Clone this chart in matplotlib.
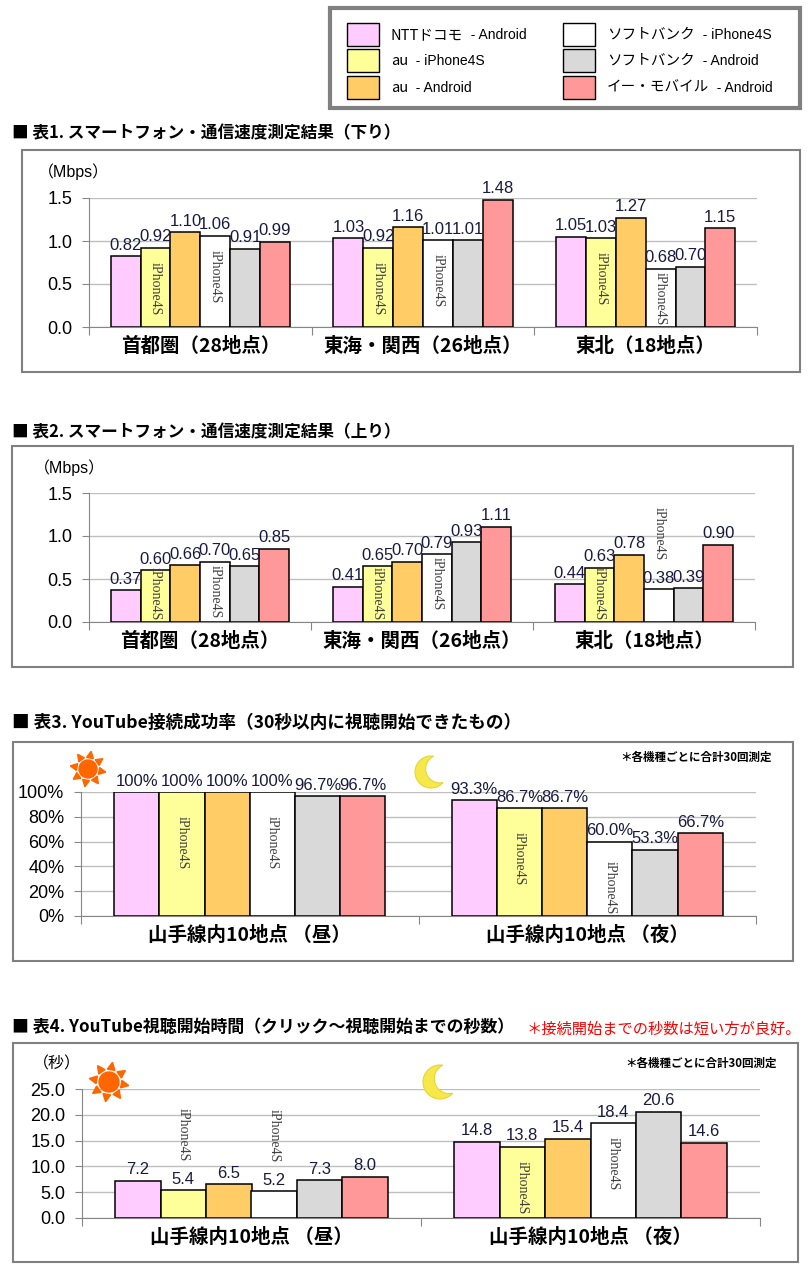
import numpy as np
import matplotlib
matplotlib.use("Agg")
import matplotlib.pyplot as plt
from matplotlib.patches import Rectangle, Circle, Polygon

plt.rcParams['font.family'] = ['Liberation Sans', 'Noto Sans CJK JP', 'DejaVu Sans']
JP_FIRST = ['Noto Sans CJK JP', 'DejaVu Sans']

# series (same order in every chart)
carriers = ['NTTドコモ', 'au', 'au', 'ソフトバンク', 'ソフトバンク', 'イー・モバイル']
models = ['Android', 'iPhone4S', 'Android', 'iPhone4S', 'Android', 'Android']
colors = ['#FFCCFF', '#FFFF99', '#FFCC66', '#FFFFFF', '#D9D9D9', '#FF9999']

# chart 1 / 2 : speed (Mbps)
regions = ['首都圏（28地点）', '東海・関西（26地点）', '東北（18地点）']
down_speed = [[0.82, 0.92, 1.10, 1.06, 0.91, 0.99],
              [1.03, 0.92, 1.16, 1.01, 1.01, 1.48],
              [1.05, 1.03, 1.27, 0.68, 0.70, 1.15]]
up_speed = [[0.37, 0.60, 0.66, 0.70, 0.65, 0.85],
            [0.41, 0.65, 0.70, 0.79, 0.93, 1.11],
            [0.44, 0.63, 0.78, 0.38, 0.39, 0.90]]

# chart 3 / 4 : YouTube
periods = ['山手線内10地点 （昼）', '山手線内10地点 （夜）']
success_rate = [[100, 100, 100, 100, 96.7, 96.7],
                [93.3, 86.7, 86.7, 60.0, 53.3, 66.7]]
start_time = [[7.2, 5.4, 6.5, 5.2, 7.3, 8.0],
              [14.8, 13.8, 15.4, 18.4, 20.6, 14.6]]

titles = ['■ 表1. スマートフォン・通信速度測定結果（下り）',
          '■ 表2. スマートフォン・通信速度測定結果（上り）',
          '■ 表3. YouTube接続成功率（30秒以内に視聴開始できたもの）',
          '■ 表4. YouTube視聴開始時間（クリック～視聴開始までの秒数）']

W, H = 810, 1280
BAR_W = 0.134
LABEL_C = '#1A1A40'
GRID_C = '#BFBFBF'
AXIS_C = '#868686'

fig = plt.figure(figsize=(W / 100, H / 100), dpi=100)

# overlay in pixel coordinates for boxes, titles, legend and icons
ov = fig.add_axes([0, 0, 1, 1], zorder=5)
ov.set_xlim(0, W)
ov.set_ylim(H, 0)
ov.axis('off')


def px_axes(left, top, right, bottom):
    ax = fig.add_axes([left / W, 1 - bottom / H, (right - left) / W, (bottom - top) / H])
    ax.set_facecolor('none')
    return ax


def draw_chart(ax, cats, data, ymax, ystep, tickfmt, valfmt, height_px, inset_px):
    ncat = len(cats)
    for j in range(6):
        xs = [i + 0.5 + (j - 2.5) * BAR_W for i in range(ncat)]
        vals = [data[i][j] for i in range(ncat)]
        ax.bar(xs, vals, BAR_W, color=colors[j], edgecolor='black', linewidth=1.1, zorder=3)
        for x, v in zip(xs, vals):
            ax.annotate(valfmt(v), (x, v), xytext=(0, 2.5), textcoords='offset points',
                        ha='center', va='bottom', fontsize=12, color=LABEL_C, zorder=4)
            if models[j] == 'iPhone4S':
                hpx = v / ymax * height_px
                if hpx > 50:
                    # inside the bar, but keep the whole word above the axis
                    top_px = max(hpx - inset_px, 55)
                    ax.annotate('iPhone4S', (x, 0), xytext=(0, top_px * 0.72),
                                textcoords='offset points', ha='center', va='top',
                                rotation=270, fontsize=10, color='#404040',
                                family='Liberation Serif', zorder=4)
                else:
                    ax.annotate('iPhone4S', (x, v), xytext=(0, 21),
                                textcoords='offset points', ha='center', va='bottom',
                                rotation=270, fontsize=10, color='#404040',
                                family='Liberation Serif', zorder=4)
    ax.set_xlim(0, ncat)
    ax.set_ylim(0, ymax)
    yt = np.arange(0, ymax + ystep / 2, ystep)
    ax.set_yticks(yt)
    ax.set_yticklabels([tickfmt(t) for t in yt], fontsize=13)
    ax.yaxis.grid(True, color=GRID_C, linewidth=1)
    ax.set_axisbelow(True)
    ax.set_xticks(range(ncat + 1))
    ax.set_xticklabels([])
    ax.set_xticks([i + 0.5 for i in range(ncat)], minor=True)
    ax.set_xticklabels(cats, minor=True, fontsize=14, fontweight='bold', family=JP_FIRST)
    ax.tick_params(axis='x', which='major', length=6, color=AXIS_C)
    ax.tick_params(axis='x', which='minor', length=0, pad=7)
    ax.tick_params(axis='y', length=5, color=AXIS_C, pad=7)
    for s in ['top', 'right']:
        ax.spines[s].set_visible(False)
    for s in ['left', 'bottom']:
        ax.spines[s].set_color(AXIS_C)


def draw_sun(cx, cy, r):
    ov.add_patch(Circle((cx, cy), r, color='#FF6600', zorder=6))
    for k in range(8):
        a = np.deg2rad(k * 45 + 10)
        tip = (cx + 2.0 * r * np.cos(a), cy + 2.0 * r * np.sin(a))
        b1 = (cx + 1.3 * r * np.cos(a + 0.3), cy + 1.3 * r * np.sin(a + 0.3))
        b2 = (cx + 1.3 * r * np.cos(a - 0.3), cy + 1.3 * r * np.sin(a - 0.3))
        ov.add_patch(Polygon([tip, b1, b2], closed=True, color='#FF6600', zorder=6))


def draw_moon(cx, cy, R):
    r, d = 0.88 * R, 0.58 * R
    phi = np.deg2rad(-20)
    ccx, ccy = cx + d * np.cos(phi), cy + d * np.sin(phi)
    alpha = np.arccos((R ** 2 + d ** 2 - r ** 2) / (2 * R * d))
    th = np.linspace(phi + alpha, phi + 2 * np.pi - alpha, 80)
    outer = np.column_stack([cx + R * np.cos(th), cy + R * np.sin(th)])
    p1 = np.array([cx + R * np.cos(phi + alpha), cy + R * np.sin(phi + alpha)])
    gam = abs(np.angle(np.exp(1j * (np.arctan2(p1[1] - ccy, p1[0] - ccx) - (phi + np.pi)))))
    ps = np.linspace(phi + np.pi + gam, phi + np.pi - gam, 60)
    inner = np.column_stack([ccx + r * np.cos(ps), ccy + r * np.sin(ps)])
    ov.add_patch(Polygon(np.vstack([outer, inner]), closed=True, facecolor='#F7E84A',
                         edgecolor='#E6D53A', linewidth=0.8, zorder=6))


def box(x0, y0, x1, y1, lw=1.5):
    ov.add_patch(Rectangle((x0, y0), x1 - x0, y1 - y0, fill=False, edgecolor='#808080',
                           linewidth=lw, zorder=6))


# legend
box(330, 8, 800, 108, lw=3)
leg_pos = [(347, 23), (347, 49), (347, 76), (563, 23), (563, 49), (563, 76)]
for j, (lx, ly) in enumerate(leg_pos):
    ov.add_patch(Rectangle((lx, ly), 32, 23, facecolor=colors[j], edgecolor='black',
                           linewidth=1, zorder=6))
    t = ov.text(lx + 44, ly + 12, carriers[j], fontsize=10.5, family=JP_FIRST,
                va='center', ha='left', zorder=7)
    ov.annotate('  - ' + models[j], (1, 0.5), xycoords=t, fontsize=10,
                va='center', ha='left', zorder=7)

# titles
for t, ty, fs in zip(titles, [133, 432, 723, 1027], [12, 12, 12.7, 12.2]):
    ov.text(12, ty, t, fontsize=fs, fontweight='bold', family=JP_FIRST,
            va='center', ha='left', zorder=7)
ov.text(527, 1029, '＊接続開始までの秒数は短い方が良好。', fontsize=11, color='#FF0000',
        family=JP_FIRST, va='center', ha='left', zorder=7)

# panel boxes
box(22, 150, 800, 372)
box(12, 446, 793, 667)
box(13, 742, 793, 961)
box(13, 1043, 798, 1262)

# chart 1
ax1 = px_axes(89, 198, 757, 327)
draw_chart(ax1, regions, down_speed, 1.5, 0.5, lambda t: f'{t:.1f}', lambda v: f'{v:.2f}', 129, 14)
ov.text(38, 172, '（Mbps）', fontsize=11.5, va='center', ha='left', zorder=7)

# chart 2
ax2 = px_axes(89, 493, 755, 622)
draw_chart(ax2, regions, up_speed, 1.5, 0.5, lambda t: f'{t:.1f}', lambda v: f'{v:.2f}', 129, 3)
ov.text(34, 468, '（Mbps）', fontsize=11.5, va='center', ha='left', zorder=7)

# chart 3
ax3 = px_axes(81, 792, 756, 916)
draw_chart(ax3, periods, success_rate, 100, 20, lambda t: f'{t:.0f}%',
           lambda v: f'{v:.0f}%' if v == 100 else f'{v:.1f}%', 124, 24)
ov.text(620, 757, '＊各機種ごとに合計30回測定', fontsize=8.3, fontweight='bold',
        family=JP_FIRST, va='center', ha='left', zorder=7)
draw_sun(88, 769, 9)
draw_moon(431, 772, 16)

# chart 4
ax4 = px_axes(82, 1089, 760, 1218)
draw_chart(ax4, periods, start_time, 25, 5, lambda t: f'{t:.1f}', lambda v: f'{v:.1f}', 129, 14)
ov.text(33, 1064, '（秒）', fontsize=11.5, va='center', ha='left', zorder=7)
ov.text(625, 1063, '＊各機種ごとに合計30回測定', fontsize=8.3, fontweight='bold',
        family=JP_FIRST, va='center', ha='left', zorder=7)
draw_sun(109, 1082, 10)
draw_moon(440, 1082, 17)

fig.savefig('out.png', dpi=100)
